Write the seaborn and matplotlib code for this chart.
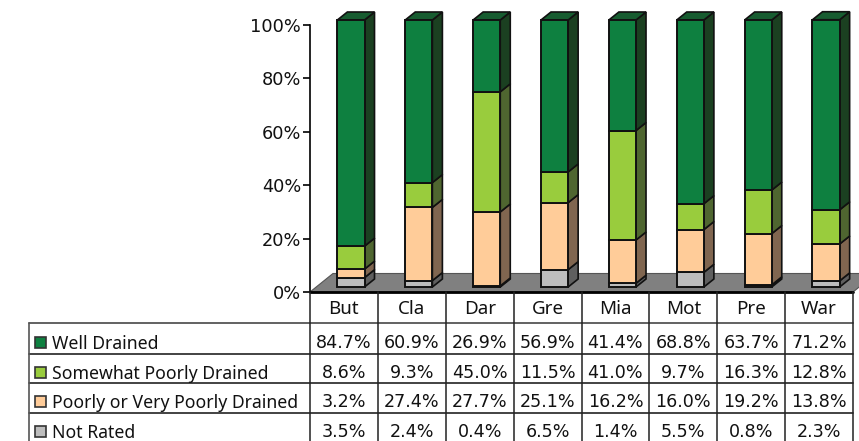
import matplotlib
matplotlib.use("Agg")
import matplotlib.pyplot as plt
import seaborn as sns
from matplotlib.patches import Polygon, Rectangle
from matplotlib.transforms import Affine2D

counties = ["But", "Cla", "Dar", "Gre", "Mia", "Mot", "Pre", "War"]
not_rated = [3.5, 2.4, 0.4, 6.5, 1.4, 5.5, 0.8, 2.3]
poorly = [3.2, 27.4, 27.7, 25.1, 16.2, 16.0, 19.2, 13.8]
somewhat = [8.6, 9.3, 45.0, 11.5, 41.0, 9.7, 16.3, 12.8]
well = [84.7, 60.9, 26.9, 56.9, 41.4, 68.8, 63.7, 71.2]
y_ticks = [0, 20, 40, 60, 80, 100]

stack = [("Not Rated", not_rated, "#BDBDBD", "#5F5F5F"),
         ("Poorly or Very Poorly Drained", poorly, "#FFCC99", "#806650"),
         ("Somewhat Poorly Drained", somewhat, "#99CC3D", "#4F6630"),
         ("Well Drained", well, "#0E8040", "#1B4021")]
top_colour = "#175C30"

sns.set_style("white")
plt.rcParams["font.family"] = ["Noto Sans", "DejaVu Sans"]
W, H = 859, 441
fig = plt.figure(figsize=(W / 100, H / 100), dpi=100)
L, R, T, B = 310, 853, 25, 292
ax = fig.add_axes([L / W, 1 - B / H, (R - L) / W, (B - T) / H])

bottom = [0.0] * len(counties)
for name, vals, col, side in stack:
    sns.barplot(x=counties, y=vals, bottom=bottom, color=col, saturation=1, width=0.4,
                edgecolor="#111111", linewidth=1.4, ax=ax, order=counties, zorder=4)
    bottom = [b + v for b, v in zip(bottom, vals)]
ax.set_xlim(-0.5, 7.5)
ax.set_ylim(0, 100)

col_w = (R - L) / len(counties)
dx = 10 / col_w
dy = 8 / ((B - T) / 100)
shift = ax.transData + Affine2D().translate(7, 5)

floor = Polygon([(-0.5, 0), (-0.5 + 23 / col_w, 18.5 / ((B - T) / 100)),
                 (7.5 + 23 / col_w, 18.5 / ((B - T) / 100)), (7.5, 0)],
                closed=True, facecolor="#808080", edgecolor="#555555", lw=0.8,
                clip_on=False, zorder=1)
ax.add_patch(floor)

for container, (name, vals, col, side) in zip(ax.containers, stack):
    for rect in container:
        rect.set_transform(shift)
        rect.set_clip_on(False)
        x0, x1 = rect.get_x(), rect.get_x() + rect.get_width()
        y0, y1 = rect.get_y(), rect.get_y() + rect.get_height()
        ax.add_patch(Polygon([(x1, y0), (x1 + dx, y0 + dy), (x1 + dx, y1 + dy), (x1, y1)],
                             closed=True, facecolor=side, edgecolor="#111111", lw=1.2,
                             transform=shift, clip_on=False, zorder=3))
        if name == "Well Drained":
            ax.add_patch(Polygon([(x0, y1), (x0 + dx, y1 + dy), (x1 + dx, y1 + dy), (x1, y1)],
                                 closed=True, facecolor=top_colour, edgecolor="#111111", lw=1.2,
                                 transform=shift, clip_on=False, zorder=3))

ax.set_xticks([])
ax.set_xlabel("")
ax.set_ylabel("")
ax.set_yticks(y_ticks)
ax.set_yticklabels([f"{t}%" for t in y_ticks], fontsize=12.8, color="#111111",
                   family="DejaVu Sans")
ax.tick_params(axis="y", left=True, length=5, width=1.2, color="black", pad=1.5)
for s in ["top", "right", "bottom"]:
    ax.spines[s].set_visible(False)
ax.spines["left"].set_color("black")
ax.spines["left"].set_linewidth(1.2)
ax.patch.set_alpha(0)

# data table under the plot
tb = fig.add_axes([0, 0, 1, 1], zorder=5)
tb.set_xlim(0, W)
tb.set_ylim(H, 0)
tb.axis("off")
row_lines = [323, 354, 383, 413]
row_mid = [343, 373, 402, 432]
head_mid = 309
tb.plot([L, R], [B, B], color="black", lw=2)
tb.plot([28.5, R], [row_lines[0]] * 2, color="#555555", lw=1.3)
for y in row_lines[1:]:
    tb.plot([28.5, R], [y, y], color="#222222", lw=1.2)
tb.plot([28.5, 28.5], [row_lines[0], H], color="#555555", lw=1.2)
for i in range(len(counties) + 1):
    xv = L + i * col_w
    tb.plot([xv, xv], [B, H], color="#222222", lw=1.1)
    if i < len(counties):
        tb.text(xv + col_w / 2, head_mid, counties[i], ha="center", va="center",
                fontsize=13.5, color="#111111")

rows = list(reversed(stack))
for (name, vals, col, side), y in zip(rows, row_mid):
    tb.add_patch(Rectangle((35, y - 6), 11, 11, facecolor=col, edgecolor="#333333", lw=1.2))
    tb.text(52, y + 1, name, ha="left", va="center", fontsize=12.7, color="#111111")
    for i, v in enumerate(vals):
        tb.text(L + (i + 0.5) * col_w, y, f"{v:.1f}%", ha="center", va="center",
                fontsize=12.6, color="#111111", family="DejaVu Sans")

fig.savefig("out.png", dpi=100)
